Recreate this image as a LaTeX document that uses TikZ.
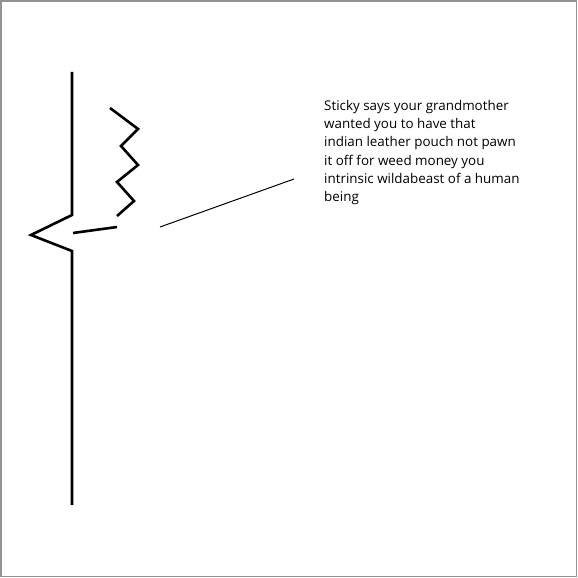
\documentclass[tikz,border=0pt]{standalone}
\usepackage{fontspec}
\setmainfont{Open Sans}
\begin{document}
\begin{tikzpicture}[x=1pt,y=-1pt,
  thick line/.style={line width=2.6pt,line join=miter},
  thin line/.style={line width=1pt},
  caption/.style={anchor=north west,align=left,inner sep=0pt,font=\fontsize{13.4}{18.3}\selectfont}]
\useasboundingbox (0,0) rectangle (578,578);
\draw[gray!85,line width=1.5pt] (1,1) rectangle (576.5,576.5);
% body line with notch
\coordinate (top) at (72,72);
\coordinate (k1) at (72,215);
\coordinate (tip) at (31,235);
\coordinate (k2) at (72,251);
\coordinate (bot) at (72,505);
\draw[thick line] (top) -- (k1) -- (tip) -- (k2) -- (bot);
% zigzag
\coordinate (z0) at (110,108);
\coordinate (z1) at (138,129);
\coordinate (z2) at (121,146);
\coordinate (z3) at (138,165);
\coordinate (z4) at (117,182);
\coordinate (z5) at (134,201);
\coordinate (z6) at (117,216);
\draw[thick line] (z0) -- (z1) -- (z2) -- (z3) -- (z4) -- (z5) -- (z6);
% short stroke
\coordinate (s0) at (73,233);
\coordinate (s1) at (117,227);
\draw[thick line] (s0) -- (s1);
% caption and pointer line
\node[caption] (txt) at (324,100) {Sticky says your grandmother\\wanted you to have that\\indian leather pouch not pawn\\it off for weed money you\\intrinsic wildabeast of a human\\being};
\coordinate (p0) at (160,227);
\coordinate (p1) at (294,179);
\draw[thin line] (p0) -- (p1);
\end{tikzpicture}
\end{document}
